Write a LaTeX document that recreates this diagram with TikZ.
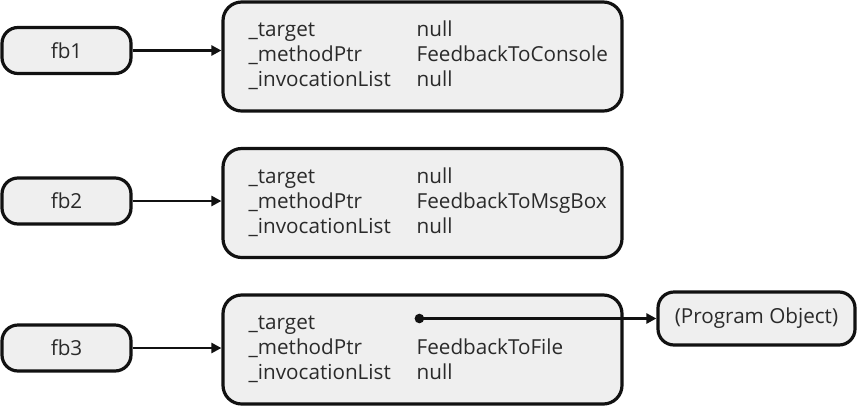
\documentclass[tikz,border=0pt]{standalone}
\usepackage{fontspec}
\setmainfont{Open Sans}
\usetikzlibrary{arrows.meta}
\definecolor{boxfill}{HTML}{EFEFEF}
\definecolor{ink}{HTML}{111111}
\definecolor{txt}{HTML}{2A2A2A}
\tikzset{
  px/.style={x=0.75pt,y=-0.75pt},
  smallbox/.style={draw=ink,line width=2.4pt,fill=boxfill,rounded corners=12pt,minimum width=96.75pt,minimum height=34.5pt,inner sep=0pt,font=\fontsize{15.5}{18}\selectfont,text=txt},
  bigbox/.style={draw=ink,line width=2.4pt,fill=boxfill,rounded corners=14pt,minimum width=299.25pt,minimum height=81.75pt,inner sep=0pt},
  objbox/.style={draw=ink,line width=2.4pt,fill=boxfill,rounded corners=12pt,minimum width=147.75pt,minimum height=39.75pt,inner sep=0pt,font=\fontsize{15.5}{18}\selectfont,text=txt},
  fieldtext/.style={anchor=base west,inner sep=0pt,font=\fontsize{15.5}{18}\selectfont,text=txt},
  link/.style={draw=ink,line width=2pt,-{Triangle[length=7.5pt,width=7.5pt]}},
}
\begin{document}
\begin{tikzpicture}[px]
\useasboundingbox (0,0) rectangle (860,408);
% reference boxes
\node[smallbox] (fb1) at (66.5,50.5) {fb1};
\node[smallbox] (fb2) at (66.5,201) {fb2};
\node[smallbox] (fb3) at (66.5,348) {fb3};
% delegate objects
\node[bigbox] (d1) at (422.5,56.5) {};
\node[bigbox] (d2) at (422.5,203) {};
\node[bigbox] (d3) at (422.5,349.5) {};
\node[objbox] (po) at (756.5,318.5) {(Program Object)};
% fields
\foreach \b/\v in {d1/FeedbackToConsole,d2/FeedbackToMsgBox}{
  \node[fieldtext] (\b t) at ([xshift=20.25pt,yshift=15pt]\b.west) {\_target};
  \node[fieldtext] (\b m) at ([xshift=20.25pt,yshift=-3.75pt]\b.west) {\_methodPtr};
  \node[fieldtext] (\b i) at ([xshift=20.25pt,yshift=-22.5pt]\b.west) {\_invocationList};
  \node[fieldtext] (\b tv) at ([xshift=146.25pt,yshift=15pt]\b.west) {null};
  \node[fieldtext] (\b mv) at ([xshift=146.25pt,yshift=-3.75pt]\b.west) {\v};
  \node[fieldtext] (\b iv) at ([xshift=146.25pt,yshift=-22.5pt]\b.west) {null};
}
\node[fieldtext] (d3t) at ([xshift=20.25pt,yshift=15pt]d3.west) {\_target};
\node[fieldtext] (d3m) at ([xshift=20.25pt,yshift=-3.75pt]d3.west) {\_methodPtr};
\node[fieldtext] (d3i) at ([xshift=20.25pt,yshift=-22.5pt]d3.west) {\_invocationList};
\node[fieldtext] (d3mv) at ([xshift=146.25pt,yshift=-3.75pt]d3.west) {FeedbackToFile};
\node[fieldtext] (d3iv) at ([xshift=146.25pt,yshift=-22.5pt]d3.west) {null};
\coordinate (dot) at ([xshift=148.5pt,yshift=23.25pt]d3.west);
% connectors
\draw[link] (fb1.east) -- (fb1.east -| d1.west);
\draw[link] (fb2.east) -- (fb2.east -| d2.west);
\draw[link] (fb3.east) -- (fb3.east -| d3.west);
\fill[ink] (dot) circle (3.6pt);
\draw[link] (dot) -- (dot -| po.west);
\end{tikzpicture}
\end{document}
